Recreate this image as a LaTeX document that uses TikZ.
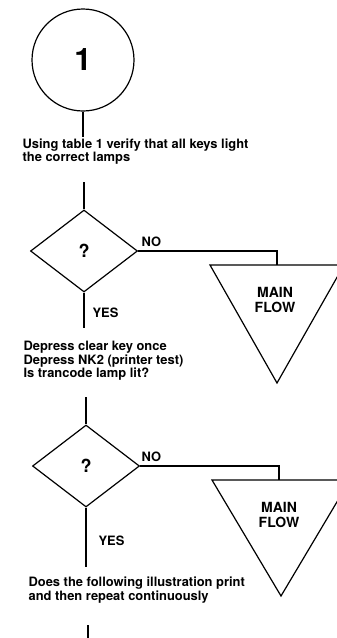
\documentclass[tikz,border=0pt]{standalone}
\usepackage{fontspec}
\setmainfont{TeX Gyre Heros}
\usetikzlibrary{shapes.geometric}

\begin{document}
\begin{tikzpicture}[x=1pt,y=-1pt,line width=1.2pt,
    every node/.style={font=\bfseries\fontsize{12.9}{13.3}\selectfont},
    decision/.style={draw,diamond,minimum width=107pt,minimum height=82pt,inner sep=0pt,
      font=\bfseries\fontsize{18}{18}\selectfont},
    instr/.style={anchor=west,align=left,inner sep=0pt},
    lbl/.style={inner sep=0pt},
    flowlbl/.style={align=center,inner sep=0pt,font=\bfseries\fontsize{14}{14.5}\selectfont}]
    \useasboundingbox (0,0) rectangle (337,638);

    % entry point
    \node[draw,circle,minimum size=102pt,inner sep=0pt,
          font=\bfseries\fontsize{31}{31}\selectfont] (start) at (83,60) {1};
    \coordinate (s1) at (83,137);
    \draw (start.south) -- (s1);
    \node[instr] (keys) at (22,151.5)
      {Using table 1 verify that all keys light\\the correct lamps};

    % first test
    \coordinate (k1) at (84,182);
    \node[decision] (q1) at (84,251) {?};
    \draw (k1) -- (q1.north);
    \coordinate (m1) at (277,265);
    \draw (q1.east) -| (m1);
    \node[lbl,anchor=south west] (no1) at (141,247) {NO};
    \coordinate (t1l) at (210,265);
    \coordinate (t1r) at (344,265);
    \coordinate (t1b) at (277,383);
    \draw (t1l) -- (t1r) -- (t1b) -- cycle;
    \node[flowlbl] (main1) at (275,300) {MAIN\\FLOW};
    \coordinate (y1) at (84,328);
    \draw (q1.south) -- (y1);
    \node[lbl,anchor=west] (yes1) at (92,313) {YES};
    \node[instr,font=\bfseries\fontsize{12.9}{11.7}\selectfont] (clear) at (23,361)
      {Depress clear key once\\Depress NK2 (printer test)\\Is trancode lamp lit?};

    % second test
    \coordinate (c1) at (86,397);
    \node[decision] (q2) at (86,466) {?};
    \draw (c1) -- (q2.north);
    \coordinate (m2) at (279,480);
    \draw (q2.east) -| (m2);
    \node[lbl,anchor=south west] (no2) at (141,462) {NO};
    \coordinate (t2l) at (212,480);
    \coordinate (t2r) at (350,480);
    \coordinate (t2b) at (281,596);
    \draw (t2l) -- (t2r) -- (t2b) -- cycle;
    \node[flowlbl] (main2) at (279,515) {MAIN\\FLOW};
    \coordinate (y2) at (86,567);
    \draw (q2.south) -- (y2);
    \node[lbl,anchor=west] (yes2) at (98,541) {YES};
    \node[instr,font=\bfseries\fontsize{12.9}{14.5}\selectfont] (print) at (28,590)
      {Does the following illustration print\\and then repeat continuously};

    \coordinate (p1) at (88,625);
    \coordinate (p2) at (88,640);
    \draw (p1) -- (p2);
  \end{tikzpicture}
\end{document}
